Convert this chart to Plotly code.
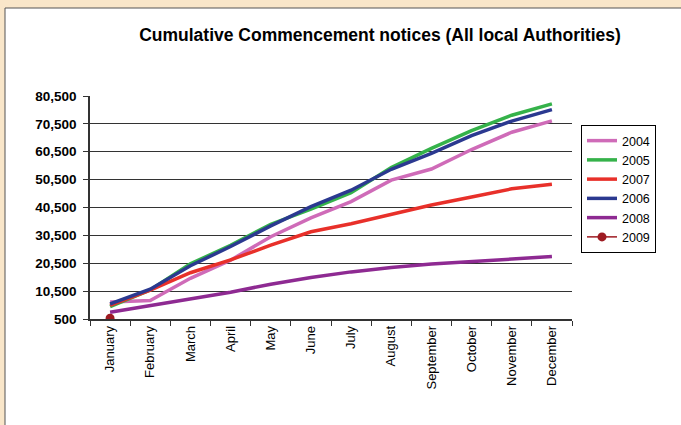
import plotly.graph_objects as go

months = ["January", "February", "March", "April", "May", "June", "July",
          "August", "September", "October", "November", "December"]

y2004 = [6600, 7100, 15100, 21600, 30000, 36800, 42600, 50300, 54300, 61300, 67500, 71600]
y2005 = [4900, 10900, 20300, 26900, 34500, 39900, 45800, 54800, 61700, 68100, 73600, 77700]
y2007 = [5400, 10900, 17100, 21700, 27000, 31800, 34700, 38000, 41400, 44300, 47200, 48800]
y2006 = [5900, 11200, 19600, 26500, 33900, 40800, 46700, 54200, 59900, 66300, 71500, 75600]
y2008 = [2900, 5300, 7600, 10100, 13000, 15400, 17400, 19000, 20200, 21100, 22000, 22900]
y2009 = [800]

yticks = [500, 10500, 20500, 30500, 40500, 50500, 60500, 70500, 80500]

FONT = "Liberation Sans, Arial, sans-serif"

series = [
    ("2004", y2004, "#CF6BB8"),
    ("2005", y2005, "#35B24A"),
    ("2007", y2007, "#E8302A"),
    ("2006", y2006, "#2B3990"),
    ("2008", y2008, "#8E2A92"),
]

fig = go.Figure()
for name, vals, col in series:
    fig.add_trace(go.Scatter(x=months[:len(vals)], y=vals, name=name, mode="lines",
                             line=dict(color=col, width=3.5)))
fig.add_trace(go.Scatter(x=months[:len(y2009)], y=y2009, name="2009", mode="lines+markers",
                         line=dict(color="#9E1B22", width=1.5),
                         marker=dict(color="#9E1B22", size=9)))

L, R, T, B = 90, 109, 96, 106
W, H = 681, 425
pw, ph = W - L - R, H - T - B

def px(x):
    return (x - L) / pw

def py(y):
    return (H - B - y) / ph

fig.add_shape(type="rect", xref="paper", yref="paper",
              x0=px(5), x1=px(700), y0=py(440), y1=py(8),
              fillcolor="white", line=dict(color="#555555", width=1), layer="below")

fig.update_layout(
    width=W, height=H,
    margin=dict(l=L, r=R, t=T, b=B),
    paper_bgcolor="#F9E6C9",
    plot_bgcolor="white",
    font=dict(family=FONT, color="black", size=13),
    title=dict(text="<b>Cumulative Commencement notices (All local Authorities)</b>",
               font=dict(size=17.5, family=FONT, color="black"),
               x=px(380), xref="paper", xanchor="center",
               y=1 - 35 / H, yref="container", yanchor="middle"),
    showlegend=True,
    legend=dict(x=px(581), y=py(125), xanchor="left", yanchor="top",
                bordercolor="black", borderwidth=1, bgcolor="white",
                font=dict(size=12.5, family=FONT), tracegroupgap=0,
                itemwidth=30),
    xaxis=dict(type="category", categoryorder="array", categoryarray=months,
               range=[-0.5, 11.5], tickson="boundaries", ticks="outside",
               ticklen=5, tickcolor="#333", tickwidth=1.2, tickangle=-90,
               showline=True, linecolor="#333", linewidth=1.5,
               showgrid=False, tickfont=dict(size=13, family=FONT)),
    yaxis=dict(range=[500, 80500], tickvals=yticks, tickformat=",d",
               ticks="outside", ticklen=5, tickcolor="#333", tickwidth=1.2,
               ticklabelstandoff=4,
               showline=True, linecolor="#333", linewidth=1.5,
               showgrid=True, gridcolor="#333", gridwidth=1.3, zeroline=False,
               tickfont=dict(size=13.5, family=FONT, weight="bold")),
)

fig.write_html("out.html", config={"displayModeBar": False},
               post_script="document.body.style.margin='0';document.body.style.overflow='hidden';")
